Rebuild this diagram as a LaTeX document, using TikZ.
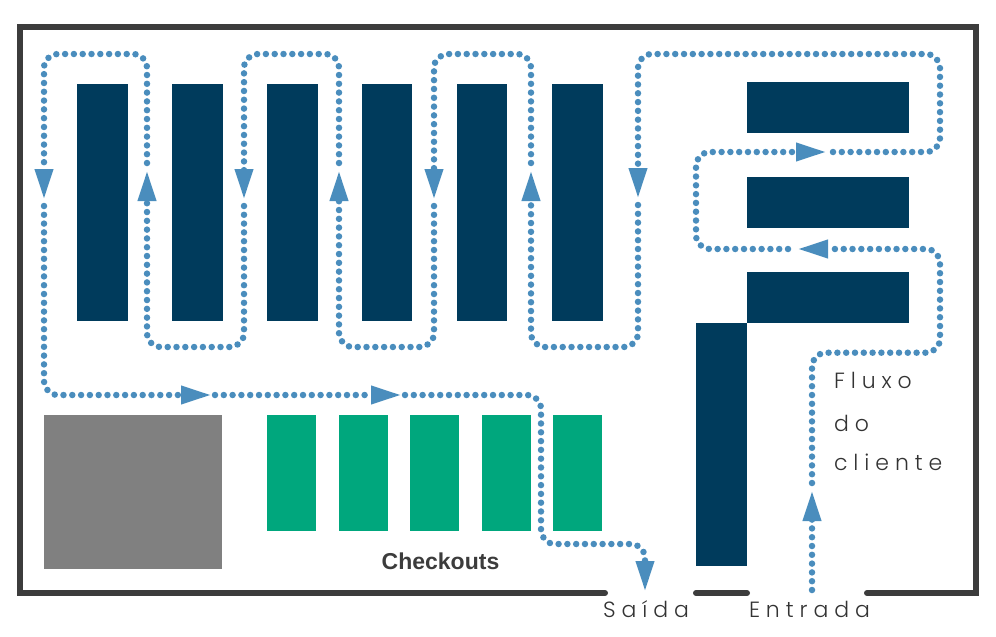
\documentclass[tikz,border=0pt]{standalone}
\usepackage{fontspec}
\usepackage{tikz}
\usetikzlibrary{arrows.meta}

\setmainfont{Liberation Sans}
\newfontfamily\labelfont[LetterSpace=27]{Poppins Light}

\definecolor{shelfblue}{HTML}{003B5C}
\definecolor{checkgreen}{HTML}{00A77D}
\definecolor{wallgray}{HTML}{3C3C3C}
\definecolor{flowblue}{HTML}{4A8DBD}

\begin{document}
\begin{tikzpicture}[x=1pt,y=-1pt]
  \tikzstyle{every node}=[inner sep=0pt,outer sep=0pt]
  \tikzstyle{aisle}=[fill=shelfblue,minimum width=51pt,minimum height=237pt]
  \tikzstyle{rack}=[fill=shelfblue,minimum width=162pt,minimum height=51pt]
  \tikzstyle{till}=[fill=checkgreen,minimum width=49pt,minimum height=116pt]
  \tikzstyle{wall}=[draw=wallgray,line width=6pt,line cap=round]
  \tikzstyle{flow}=[draw=flowblue,line width=6.5pt,line cap=round,dash pattern=on 0pt off 8.8pt,
    rounded corners=14pt,-{Triangle[length=31pt,width=17pt,flowblue]}]
  \tikzstyle{tag}=[anchor=base west,text=black!80,font=\labelfont\fontsize{22}{22}\selectfont]

  \useasboundingbox (0,0) rectangle (996,637);

  % store aisles
  \node[aisle] (aisle1) at (102.5,202.5) {};
  \node[aisle] (aisle2) at (197.5,202.5) {};
  \node[aisle] (aisle3) at (292.5,202.5) {};
  \node[aisle,minimum width=50pt] (aisle4) at (387,202.5) {};
  \node[aisle,minimum width=50pt] (aisle5) at (482,202.5) {};
  \node[aisle] (aisle6) at (577,202.5) {};

  % racks on the right
  \node[rack] (rack1) at (828,107.5) {};
  \node[rack] (rack2) at (828,202.5) {};
  \node[rack] (rack3) at (828,297.5) {};
  \node[aisle,minimum height=243pt] (rack4) at (721.5,444.5) {};

  % checkouts
  \node[fill=gray,minimum width=178pt,minimum height=154pt] (storage) at (133,492) {};
  \node[till] (till1) at (291.5,473) {};
  \node[till] (till2) at (363,473) {};
  \node[till] (till3) at (434.5,473) {};
  \node[till] (till4) at (506.5,473) {};
  \node[till] (till5) at (577.5,473) {};
  \node[text=wallgray,font=\bfseries\fontsize{23}{23}\selectfont] (checkouts) at (440.5,561) {Checkouts};

  % walls
  \draw[wall] (605,593) -- (20,593) -- (20,26.5) -- (976,26.5) -- (976,593) -- (867,593);
  \draw[wall] (696,593) -- (747,593);

  % labels
  \node[tag] (saida) at (603,617) {Saída};
  \node[tag] (entrada) at (749,617) {Entrada};
  \node[tag] (fluxo) at (834,388) {Fluxo};
  \node[tag] (do) at (834,431) {do};
  \node[tag] (cliente) at (834,470) {cliente};

  % customer route
  \coordinate (in) at (812,590);
  \coordinate (up1) at (812,490);
  \coordinate (from1) at (812,483);
  \coordinate (left1) at (797,249);
  \coordinate (from2) at (788,249);
  \coordinate (right1) at (827,152);
  \coordinate (from3) at (833,152);
  \coordinate (down1) at (638,199);
  \coordinate (from4) at (638,205);
  \coordinate (up2) at (531,170);
  \coordinate (from5) at (531,163);
  \coordinate (down2) at (434,200);
  \coordinate (from6) at (434,206);
  \coordinate (up3) at (339,170);
  \coordinate (from7) at (339,163);
  \coordinate (down3) at (244,200);
  \coordinate (from8) at (244,206);
  \coordinate (up4) at (147,170);
  \coordinate (from9) at (147,163);
  \coordinate (down4) at (44,200);
  \coordinate (from10) at (44,206);
  \coordinate (right2) at (212,395);
  \coordinate (from11) at (215,395);
  \coordinate (right3) at (402,395);
  \coordinate (from12) at (405,395);
  \coordinate (out) at (645,592);

  \draw[flow] (in) -- (up1);
  \draw[flow] (from1) -- (812,352.7) -- (940,352.7) -- (940,249) -- (left1);
  \draw[flow] (from2) -- (696,249) -- (696,152) -- (right1);
  \draw[flow] (from3) -- (940,152) -- (940,54) -- (638,54) -- (down1);
  \draw[flow] (from4) -- (638,347) -- (531,347) -- (up2);
  \draw[flow] (from5) -- (531,54) -- (434,54) -- (down2);
  \draw[flow] (from6) -- (434,347) -- (339,347) -- (up3);
  \draw[flow] (from7) -- (339,54) -- (244,54) -- (down3);
  \draw[flow] (from8) -- (244,347) -- (147,347) -- (up4);
  \draw[flow] (from9) -- (147,54) -- (44,54) -- (down4);
  \draw[flow] (from10) -- (44,395) -- (right2);
  \draw[flow] (from11) -- (right3);
  \draw[flow] (from12) -- (541,395) -- (541,544) -- (645,544) -- (out);
\end{tikzpicture}
\end{document}
